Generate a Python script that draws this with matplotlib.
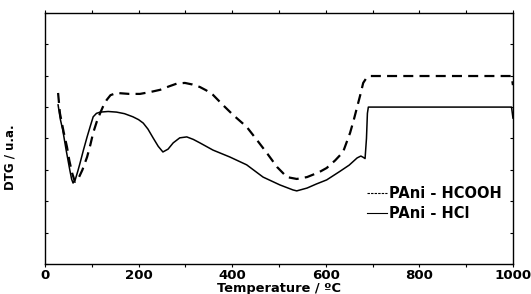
import matplotlib
matplotlib.use("Agg")
import matplotlib.pyplot as plt
from matplotlib.ticker import MultipleLocator, NullFormatter

plt.rcParams['font.family'] = ['DejaVu Sans']
plt.rcParams['font.weight'] = 'bold'

# 曲线数据 (温度 / ºC, DTG 任意单位)
temp_hcooh = [28, 32, 40, 47, 52, 58, 64, 70, 80, 90, 97, 103, 111, 118, 125, 132, 140,
              153, 180, 203, 225, 246, 265, 282, 299, 315, 331, 345, 359, 380, 402, 431,
              453, 474, 496, 517, 538, 560, 585, 602, 620, 637, 652, 660, 667, 674, 680,
              687, 694, 800, 900, 997, 1000]
dtg_hcooh = [5.45, 4.80, 4.20, 3.73, 3.30, 2.90, 2.62, 2.68, 3.00, 3.41, 3.80, 4.18, 4.55,
             4.81, 5.05, 5.23, 5.38, 5.45, 5.42, 5.42, 5.48, 5.55, 5.66, 5.75, 5.77, 5.72,
             5.64, 5.53, 5.39, 5.07, 4.75, 4.37, 3.95, 3.54, 3.09, 2.77, 2.71, 2.77, 2.92,
             3.06, 3.30, 3.57, 4.18, 4.60, 5.00, 5.40, 5.77, 5.93, 5.99, 5.99, 5.99, 5.99,
             5.70]

temp_hcl = [28, 33, 38, 45, 53, 57, 60, 65, 70, 75, 82, 90, 97, 103, 110, 118, 135, 153,
            170, 188, 200, 210, 220, 231, 242, 252, 263, 274, 288, 303, 317, 331, 359,
            395, 431, 466, 502, 530, 538, 560, 580, 602, 630, 650, 667, 675, 680, 684,
            687, 689, 691, 800, 900, 997, 1000]
dtg_hcl = [5.07, 4.60, 4.27, 3.65, 3.00, 2.70, 2.58, 2.70, 2.95, 3.22, 3.62, 4.05, 4.40,
           4.69, 4.80, 4.84, 4.86, 4.84, 4.79, 4.69, 4.60, 4.49, 4.30, 4.02, 3.75, 3.57,
           3.66, 3.86, 4.02, 4.05, 3.97, 3.86, 3.63, 3.41, 3.16, 2.77, 2.52, 2.36, 2.33,
           2.42, 2.55, 2.68, 2.95, 3.15, 3.38, 3.44, 3.40, 3.36, 4.00, 4.80, 5.00, 5.00,
           5.00, 5.00, 4.65]

fig = plt.figure(figsize=(5.31, 2.94), dpi=100)
ax = fig.add_axes([0.0847, 0.102, 0.8813, 0.854])

ax.plot(temp_hcooh, dtg_hcooh, color='black', lw=1.6, dashes=(4.5, 2.8),
        label='PAni - HCOOH')
ax.plot(temp_hcl, dtg_hcl, color='black', lw=1.1, label='PAni - HCl')

ax.set_xlim(0, 1000)
ax.set_ylim(0, 8)
ax.xaxis.set_major_locator(MultipleLocator(200))
ax.xaxis.set_minor_locator(MultipleLocator(100))
ax.yaxis.set_major_locator(MultipleLocator(1))
ax.yaxis.set_major_formatter(NullFormatter())
ax.tick_params(axis='x', which='both', direction='out', top=True, length=2.5,
               width=0.8, labelsize=9.6, pad=1)
ax.tick_params(axis='y', which='both', direction='in', right=True, length=2.5,
               width=0.8)
for lab in ax.get_xticklabels():
    lab.set_fontweight('bold')
for s in ax.spines.values():
    s.set_linewidth(1.0)

ax.set_xlabel('Temperature / ºC', fontsize=9.4, fontweight='bold', labelpad=0)
ax.set_ylabel('DTG / u.a.', fontsize=8.5, fontweight='bold')
ax.yaxis.set_label_coords(-0.06, 0.426)

leg = ax.legend(loc='center left', bbox_to_anchor=(0.672, 0.24), frameon=False,
                fontsize=10.5, handlelength=1.4, handletextpad=0.15,
                labelspacing=0.35, borderpad=0)
for line in leg.get_lines():
    line.set_linewidth(0.8)
leg.get_lines()[0].set_dashes((2.2, 1.0))
for t in leg.get_texts():
    t.set_fontweight('bold')

fig.savefig('out.png', dpi=100)
